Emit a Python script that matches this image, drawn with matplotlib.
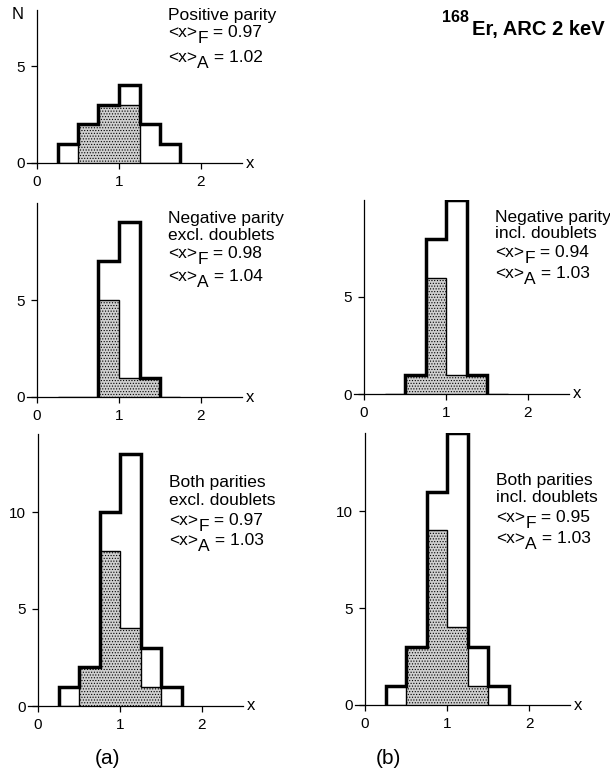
import numpy as np
import matplotlib
matplotlib.use("Agg")
import matplotlib.pyplot as plt
from matplotlib.transforms import offset_copy

plt.rcParams['font.family'] = ['Liberation Sans', 'DejaVu Sans']
plt.rcParams['hatch.linewidth'] = 0.5

# bin edges of the x distributions (width 0.25)
edges = [0.25, 0.5, 0.75, 1.0, 1.25, 1.5, 1.75]

pos_total = [1, 2, 3, 4, 2, 1]
pos_shaded = [0, 2, 3, 3, 0, 0]
neg_excl_total = [0, 0, 7, 9, 1, 0]
neg_excl_shaded = [0, 0, 5, 1, 1, 0]
neg_incl_total = [0, 1, 8, 10, 1, 0]
neg_incl_shaded = [0, 1, 6, 1, 1, 0]
both_excl_total = [1, 2, 10, 13, 3, 1]
both_excl_shaded = [0, 2, 8, 4, 1, 0]
both_incl_total = [1, 3, 11, 14, 3, 1]
both_incl_shaded = [0, 3, 9, 4, 1, 0]

pos_header = ["Positive parity"]
neg_excl_header = ["Negative parity", "excl. doublets"]
neg_incl_header = ["Negative parity", "incl. doublets"]
both_excl_header = ["Both parities", "excl. doublets"]
both_incl_header = ["Both parities", "incl. doublets"]

pos_means = (0.97, 1.02)
neg_excl_means = (0.98, 1.04)
neg_incl_means = (0.94, 1.03)
both_excl_means = (0.97, 1.03)
both_incl_means = (0.95, 1.03)

W, H = 610, 778
fig = plt.figure(figsize=(W / 100, H / 100), dpi=100)

UX, UY = 82.0, 19.4        # pixels per data unit
XMIN, XMAX = -0.12, 2.5
FS = 12.5
SHADE = "#cfcfcf"


def make_axes(x0_px, y0_px, ytop):
    left = x0_px + XMIN * UX
    rect = [left / W, (H - y0_px) / H, (XMAX - XMIN) * UX / W, ytop * UY / H]
    ax = fig.add_axes(rect)
    ax.set_xlim(XMIN, XMAX)
    ax.set_ylim(0, ytop)
    ax.patch.set_alpha(0)
    for s in ("top", "right"):
        ax.spines[s].set_visible(False)
    ax.spines["left"].set_position(("data", 0))
    for s in ("left", "bottom"):
        ax.spines[s].set_linewidth(0.9)
    ax.tick_params(direction="out", length=4.5, width=0.9, labelsize=11, pad=4)
    ax.set_xticks([0, 1, 2])
    ax.text(2.6, 0, "x", ha="center", va="center", fontsize=12, clip_on=False)
    return ax


def mean_line(ax, x, y, dy, sub, val):
    tr = offset_copy(ax.transData, fig=fig, x=0, y=dy, units="dots")
    t1 = ax.text(x, y, "<x>", transform=tr, ha="left", va="baseline", fontsize=FS)
    t2 = ax.annotate(sub, xy=(1, 0), xycoords=t1, xytext=(0, -6),
                     textcoords="offset pixels", ha="left", va="bottom", fontsize=FS)
    ax.annotate(f" = {val:.2f}", xy=(1, 0), xycoords=t2, xytext=(0, 6),
                textcoords="offset pixels", ha="left", va="bottom", fontsize=FS)


def panel(x0_px, y0_px, ytop, yticks, total, shaded, header, means, ty, offsets):
    ax = make_axes(x0_px, y0_px, ytop)
    ax.set_yticks(yticks)

    # stippled part of the distribution
    sh = ax.stairs(shaded, edges, baseline=0, fill=True, facecolor=SHADE,
                   edgecolor="black", linewidth=1.0, hatch="......")
    sh.set_joinstyle("miter")

    # thick outline of the full distribution
    total = np.asarray(total)
    nz = np.nonzero(total)[0]
    i0, i1 = nz[0], nz[-1] + 1
    st = ax.stairs(total[i0:i1], edges[i0:i1 + 1], baseline=0, fill=False,
                   color="black", linewidth=2.5)
    st.set_joinstyle("miter")

    for line, dy in zip(header, offsets):
        tr = offset_copy(ax.transData, fig=fig, x=0, y=dy, units="dots")
        ax.text(1.6, ty, line, transform=tr, ha="left", va="baseline", fontsize=FS)
    n = len(header)
    mean_line(ax, 1.6, ty, offsets[n], "F", means[0])
    mean_line(ax, 1.6, ty, offsets[n + 1], "A", means[1])
    return ax


ax_tl = panel(37, 163, 7.9, [0, 5], pos_total, pos_shaded, pos_header, pos_means,
              (163 - 20) / UY, [0, -17, -42])
ax_tl.text(-0.24, 7.63, "N", ha="center", va="center", fontsize=12, clip_on=False)

panel(37, 397, 10, [0, 5], neg_excl_total, neg_excl_shaded, neg_excl_header,
      neg_excl_means, (397 - 223) / UY, [0, -17, -35, -58])
panel(364, 394, 10, [0, 5], neg_incl_total, neg_incl_shaded, neg_incl_header,
      neg_incl_means, (394 - 222) / UY, [0, -16, -35, -56])
panel(38, 706, 14, [0, 5, 10], both_excl_total, both_excl_shaded, both_excl_header,
      both_excl_means, (706 - 487) / UY, [0, -18, -38, -58])
panel(365, 705, 14, [0, 5, 10], both_incl_total, both_incl_shaded, both_incl_header,
      both_incl_means, (705 - 485) / UY, [0, -17, -37, -58])

# nucleus / measurement label
fig.text(442 / W, 1 - 22 / H, "168", ha="left", va="baseline",
         fontsize=11.5, fontweight="bold")
fig.text(472 / W, 1 - 35 / H, "Er, ARC 2 keV", ha="left", va="baseline",
         fontsize=14.5, fontweight="bold")

fig.text(107 / W, 1 - 759 / H, "(a)", ha="center", va="center", fontsize=15)
fig.text(388 / W, 1 - 759 / H, "(b)", ha="center", va="center", fontsize=15)

fig.savefig("out.png", dpi=100, facecolor="white")
